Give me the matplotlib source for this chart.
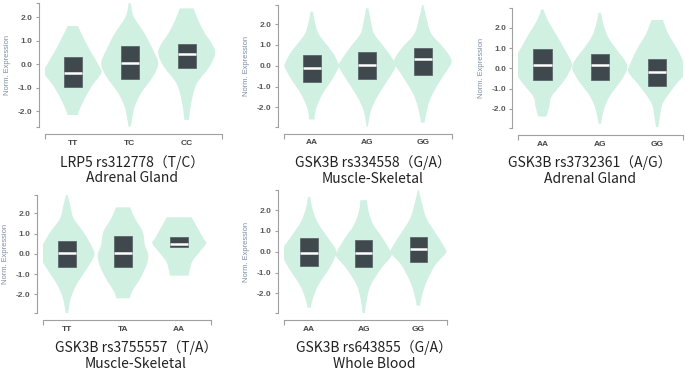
import numpy as np
import matplotlib
matplotlib.use('Agg')
import matplotlib.pyplot as plt
from matplotlib.patches import PathPatch, Rectangle
from matplotlib.path import Path
from matplotlib.transforms import ScaledTranslation

# ---- data ----
# violin outlines: y levels (top -> bottom) and half widths (in category units)
p1_genotypes = ['TT', 'TC', 'CC']
p1_violin_y = [[1.63, 1.32, 0.61, -0.10, -0.38, -0.95, -1.52, -1.94, -2.16],
               [2.60, 2.03, 1.32, 0.61, 0.04, -0.52, -1.23, -1.80, -2.23, -2.65],
               [2.38, 1.89, 1.32, 0.89, 0.47, -0.10, -0.81, -1.52, -2.16, -2.37]]
p1_violin_w = [[0.09, 0.15, 0.30, 0.47, 0.50, 0.33, 0.20, 0.12, 0.09],
               [0.02, 0.07, 0.26, 0.41, 0.50, 0.41, 0.20, 0.09, 0.05, 0.02],
               [0.12, 0.20, 0.32, 0.44, 0.50, 0.40, 0.18, 0.09, 0.05, 0.04]]
p1_q3 = [0.30, 0.79, 0.85]
p1_med = [-0.35, 0.04, 0.43]
p1_q1 = [-0.95, -0.62, -0.14]

p2_genotypes = ['AA', 'AG', 'GG']
p2_violin_y = [[2.60, 2.05, 1.55, 1.07, 0.59, 0.11, -0.05, -0.69, -1.33, -1.97, -2.45, -2.58],
               [2.76, 2.20, 1.55, 0.91, 0.27, -0.05, -0.69, -1.49, -2.13, -2.77, -2.93],
               [2.92, 2.36, 1.55, 0.91, 0.43, 0.11, -0.53, -1.33, -1.97, -2.74]]
p2_violin_w = [[0.02, 0.06, 0.12, 0.25, 0.39, 0.48, 0.49, 0.36, 0.20, 0.09, 0.05, 0.06],
               [0.02, 0.06, 0.12, 0.30, 0.47, 0.51, 0.37, 0.18, 0.07, 0.02, 0.01],
               [0.01, 0.06, 0.15, 0.36, 0.49, 0.51, 0.36, 0.18, 0.09, 0.03]]
p2_q3 = [0.51, 0.67, 0.87]
p2_med = [-0.13, 0.03, 0.32]
p2_q1 = [-0.77, -0.64, -0.45]

p3_genotypes = ['AA', 'AG', 'GG']
p3_violin_y = [[2.90, 2.38, 1.72, 1.07, 0.41, 0.08, -0.57, -1.39, -1.89, -2.38],
               [2.74, 2.21, 1.56, 0.90, 0.41, 0.00, -0.57, -1.39, -2.05, -2.74],
               [2.38, 1.72, 0.90, 0.08, -0.25, -0.90, -1.72, -2.38, -2.90]]
p3_violin_w = [[0.02, 0.09, 0.23, 0.36, 0.49, 0.51, 0.39, 0.16, 0.12, 0.07],
               [0.02, 0.06, 0.14, 0.30, 0.43, 0.48, 0.38, 0.17, 0.07, 0.02],
               [0.10, 0.19, 0.36, 0.49, 0.49, 0.30, 0.10, 0.05, 0.02]]
p3_q3 = [0.95, 0.69, 0.44]
p3_med = [0.16, 0.16, -0.16]
p3_q1 = [-0.57, -0.57, -0.85]

p4_genotypes = ['TT', 'TA', 'AA']
p4_violin_y = [[2.95, 2.42, 1.76, 1.10, 0.44, -0.05, -0.71, -1.53, -2.19, -2.93],
               [2.30, 1.76, 1.10, 0.44, -0.05, -0.54, -1.19, -1.86, -2.19],
               [1.81, 1.27, 0.77, 0.53, 0.12, -0.38, -0.87, -1.07]]
p4_violin_w = [[0.01, 0.06, 0.12, 0.29, 0.43, 0.49, 0.36, 0.17, 0.07, 0.02],
               [0.125, 0.21, 0.35, 0.39, 0.45, 0.42, 0.31, 0.16, 0.12],
               [0.22, 0.33, 0.43, 0.48, 0.37, 0.23, 0.18, 0.17]]
p4_q3 = [0.66, 0.89, 0.82]
p4_med = [0.03, 0.03, 0.49]
p4_q1 = [-0.66, -0.66, 0.33]

p5_genotypes = ['AA', 'AG', 'GG']
p5_violin_y = [[2.64, 2.08, 1.44, 0.80, 0.16, -0.16, -0.80, -1.60, -2.24, -2.69],
               [2.48, 1.92, 1.28, 0.64, 0.00, -0.24, -0.80, -1.60, -2.24, -2.96],
               [2.96, 2.40, 1.60, 0.80, 0.16, -0.08, -0.64, -1.44, -2.08, -2.59]]
p5_violin_w = [[0.02, 0.06, 0.15, 0.31, 0.48, 0.49, 0.37, 0.17, 0.07, 0.03],
               [0.06, 0.09, 0.18, 0.35, 0.49, 0.50, 0.32, 0.13, 0.06, 0.02],
               [0.01, 0.06, 0.15, 0.34, 0.49, 0.50, 0.31, 0.15, 0.07, 0.03]]
p5_q3 = [0.67, 0.56, 0.69]
p5_med = [-0.05, -0.08, 0.11]
p5_q1 = [-0.69, -0.75, -0.48]

titles = ['LRP5 rs312778（T/C）', 'GSK3B rs334558（G/A）', 'GSK3B rs3732361（A/G）',
          'GSK3B rs3755557（T/A）', 'GSK3B rs643855（G/A）']
tissues = ['Adrenal Gland', 'Muscle-Skeletal', 'Adrenal Gland',
           'Muscle-Skeletal', 'Whole Blood']
yticks = [-2.0, -1.0, 0.0, 1.0, 2.0]

panels = [
    (p1_genotypes, p1_violin_y, p1_violin_w, p1_q1, p1_med, p1_q3),
    (p2_genotypes, p2_violin_y, p2_violin_w, p2_q1, p2_med, p2_q3),
    (p3_genotypes, p3_violin_y, p3_violin_w, p3_q1, p3_med, p3_q3),
    (p4_genotypes, p4_violin_y, p4_violin_w, p4_q1, p4_med, p4_q3),
    (p5_genotypes, p5_violin_y, p5_violin_w, p5_q1, p5_med, p5_q3),
]

# ---- layout (pixels of the 685x371 image) ----
W, H = 685, 371
# x0, x1, y0(top), y1(bottom), xlim, ylim
layout = [
    (45, 222, 3, 127, (-0.486, 2.62), (-2.67, 2.61)),
    (284, 451.7, 5, 126.7, (-0.50, 2.52), (-2.93, 2.92)),
    (518.3, 683, 8.3, 128.3, (-0.42, 2.45), (-2.96, 2.96)),
    (42.7, 210.7, 195, 313.3, (-0.43, 2.56), (-2.93, 2.91)),
    (284, 447.3, 190, 313.3, (-0.46, 2.53), (-2.96, 2.97)),
]
title_pos = [(132, 163, 178), (373, 163, 179), (590, 163, 179),
             (136, 348, 364), (374, 348, 364)]

violin_color = '#d0f0e2'
box_color = '#3e484d'
axis_color = '#a0a0a0'


def smooth_side(pts):
    # cubic bezier through the read outline points (catmull-rom tangents)
    verts = [pts[0]]
    codes = []
    n = len(pts)
    for i in range(n - 1):
        p0 = pts[max(i - 1, 0)]
        p1 = pts[i]
        p2 = pts[i + 1]
        p3 = pts[min(i + 2, n - 1)]
        verts += [p1 + (p2 - p0) / 6, p2 - (p3 - p1) / 6, p2]
        codes += [Path.CURVE4] * 3
    return verts, codes


def violin_path(k, ys, ws):
    right = np.column_stack([k + ws, ys])
    left = np.column_stack([k - ws[::-1], ys[::-1]])
    rv, rc = smooth_side(right)
    lv, lc = smooth_side(left)
    verts = rv + lv + [rv[0]]
    codes = [Path.MOVETO] + rc + [Path.LINETO] + lc + [Path.CLOSEPOLY]
    return Path(verts, codes)


fig = plt.figure(figsize=(6.85, 3.71), dpi=100)

for i, (geno, vy, vw, q1, med, q3) in enumerate(panels):
    x0, x1, y0, y1, xlim, ylim = layout[i]
    ax = fig.add_axes([x0 / W, 1 - y1 / H, (x1 - x0) / W, (y1 - y0) / H])
    ax.set_xlim(*xlim)
    ax.set_ylim(*ylim)

    for k in range(len(geno)):
        path = violin_path(k, np.array(vy[k]), np.array(vw[k]))
        ax.add_patch(PathPatch(path, facecolor=violin_color,
                               edgecolor='none', zorder=1))
        bw = 0.16
        ax.add_patch(Rectangle((k - bw, q1[k]), 2 * bw, q3[k] - q1[k],
                               facecolor=box_color, edgecolor='#5d686d',
                               linewidth=0.6, zorder=2))
        ax.plot([k - bw, k + bw], [med[k], med[k]], color='white',
                linewidth=1.8, solid_capstyle='butt', zorder=3)

    for s in ['top', 'right']:
        ax.spines[s].set_visible(False)
    ax.spines['left'].set_position(('outward', 4.3))
    ax.spines['bottom'].set_position(('outward', 5))
    for s in ['left', 'bottom']:
        ax.spines[s].set_color(axis_color)
        ax.spines[s].set_linewidth(0.8)

    ax.set_yticks(yticks)
    ax.set_yticklabels(['%.1f' % t for t in yticks])
    ax.set_yticks(list(ylim), minor=True)
    ax.set_xticks(range(len(geno)))
    ax.set_xticklabels(geno)
    ax.set_xticks(list(xlim), minor=True)
    ax.tick_params(axis='y', which='major', length=2.5, width=0.8,
                   color=axis_color, labelsize=6, labelcolor='#5a5a5a', pad=2)
    ax.tick_params(axis='y', which='minor', length=2.5, width=0.8,
                   color=axis_color)
    ax.tick_params(axis='x', which='major', length=0, labelsize=6,
                   labelcolor='#444444', pad=4)
    ax.tick_params(axis='x', which='minor', length=3.5, width=0.8,
                   color=axis_color)
    for lab in ax.get_yticklabels() + ax.get_xticklabels():
        lab.set_fontfamily('Liberation Sans')
        lab.set_fontweight('bold')

    off = ScaledTranslation(-37 / 100, 0, fig.dpi_scale_trans)
    ax.text(0, 0.5, 'Norm. Expression', transform=ax.transAxes + off,
            rotation=90, ha='center', va='center', fontsize=5.4,
            color='#7d8ca3', family='Liberation Sans')

    tx, ty1, ty2 = title_pos[i]
    fig.text(tx / W, 1 - ty1 / H, titles[i], ha='center', va='center',
             fontsize=10, color='#222222', family=['Noto Sans CJK SC', 'DejaVu Sans'])
    fig.text(tx / W, 1 - ty2 / H, tissues[i], ha='center', va='center',
             fontsize=10, color='#222222', family=['Noto Sans CJK SC', 'DejaVu Sans'])

fig.savefig('out.png', dpi=100, facecolor='white')
